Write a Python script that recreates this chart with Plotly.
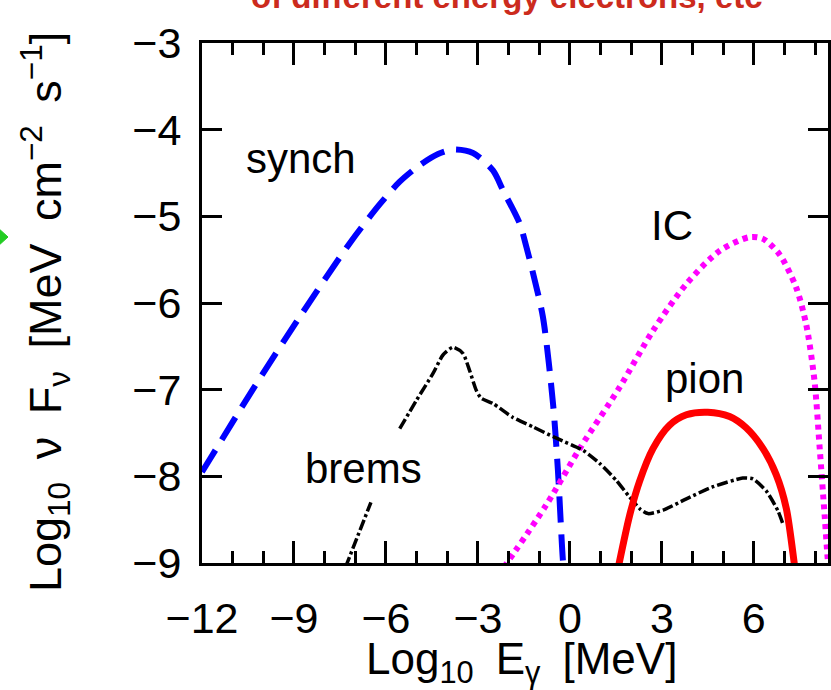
import plotly.graph_objects as go

# ---- data ----
synch_x = [-12.0, -11.74, -10.33, -8.81, -7.18, -6.2, -5.55, -4.9, -4.3, -3.81, -3.16, -2.51, -2.18, -1.64, -1.42, -1.2, -0.88, -0.55, -0.39, -0.22, -0.18]
synch_y = [-7.95, -7.80, -6.99, -6.16, -5.31, -4.86, -4.60, -4.41, -4.28, -4.23, -4.27, -4.47, -4.70, -5.08, -5.35, -5.66, -6.16, -7.16, -7.93, -9.0, -9.1]

ic_x = [-2.15, -0.77, 0.32, 1.61, 2.71, 3.8, 4.88, 5.86, 6.3, 6.84, 7.38, 7.71, 7.98, 8.15, 8.31, 8.41, 8.45]
ic_y = [-9.05, -8.33, -7.68, -6.98, -6.32, -5.78, -5.40, -5.24, -5.26, -5.44, -5.82, -6.25, -6.90, -7.68, -8.45, -8.95, -9.1]

pion_x = [1.58, 1.95, 2.27, 2.71, 3.25, 3.8, 4.5, 5.21, 5.75, 6.3, 6.73, 7.06, 7.33, 7.36]
pion_y = [-9.05, -8.45, -8.06, -7.68, -7.41, -7.29, -7.26, -7.31, -7.44, -7.68, -7.98, -8.37, -9.03, -9.1]

brems_x = [-7.32, -6.49, None, -5.55, -5.0, -4.46, -4.14, -3.81, -3.49, -3.27, -3.05, -2.89, -2.51, -1.86, -1.2, -0.44, 0.43, 0.97, 1.52, 1.95, 2.3, 2.55, 3.04, 3.8, 4.67, 5.64, 5.97, 6.41, 6.79, 6.95]
brems_y = [-9.05, -8.30, None, -7.45, -7.12, -6.81, -6.60, -6.51, -6.58, -6.78, -7.01, -7.10, -7.16, -7.32, -7.43, -7.56, -7.70, -7.85, -8.05, -8.24, -8.38, -8.43, -8.39, -8.26, -8.12, -8.02, -8.03, -8.17, -8.40, -8.55]

labels = ["synch", "brems", "IC", "pion"]
label_x = [-8.78, -6.72, 3.34, 4.39]
label_y = [-4.33, -7.91, -5.11, -6.87]

x_range = [-12, 8.42]
y_range = [-9, -3]

x_title = "Log<sub>10</sub>\u2002E<sub>γ</sub>\u2002[MeV]"
y_title = "Log<sub>10</sub>\u2002ν\u2002F<sub>ν</sub>\u2002[MeV\u2002cm<sup>−2</sup>\u2002s<sup>−1</sup>]"
heading = "of different energy electrons, etc"

FONT = "Liberation Sans, Arial, Helvetica, sans-serif"

fig = go.Figure()
fig.add_trace(go.Scatter(x=synch_x, y=synch_y, mode="lines",
                         line=dict(color="#0000ff", width=6, dash="26px,12px", shape="spline", smoothing=0.8),
                         showlegend=False, hoverinfo="skip"))
fig.add_trace(go.Scatter(x=ic_x, y=ic_y, mode="lines",
                         line=dict(color="#ff00ff", width=6, dash="5px,5px", shape="spline", smoothing=0.8),
                         showlegend=False, hoverinfo="skip"))
fig.add_trace(go.Scatter(x=brems_x, y=brems_y, mode="lines", connectgaps=False,
                         line=dict(color="#000000", width=3.5, dash="11px,3px,3px,3px", shape="spline", smoothing=0.6),
                         showlegend=False, hoverinfo="skip"))
fig.add_trace(go.Scatter(x=pion_x, y=pion_y, mode="lines",
                         line=dict(color="#ff0000", width=7, shape="spline", smoothing=0.8),
                         showlegend=False, hoverinfo="skip"))

for t, lx, ly in zip(labels, label_x, label_y):
    fig.add_annotation(x=lx, y=ly, xref="x", yref="y", text=t, showarrow=False,
                       font=dict(family=FONT, size=42, color="#000000"))

# partially visible heading above the frame
fig.add_annotation(x=0.487, y=1.0885, xref="paper", yref="paper", text="<b>" + heading + "</b>",
                   showarrow=False, xanchor="center", yanchor="middle",
                   font=dict(family=FONT, size=33, color="#cc2b1d"))

# axis titles
fig.add_annotation(x=0.511, y=-0.1904, xref="paper", yref="paper", text=x_title, showarrow=False,
                   xanchor="center", yanchor="middle", font=dict(family=FONT, size=44, color="#000000"))
fig.add_annotation(x=-0.2508, y=0.4827, xref="paper", yref="paper", text=y_title, showarrow=False,
                   textangle=-90, xanchor="center", yanchor="middle",
                   font=dict(family=FONT, size=45, color="#000000"))

# green arrowhead cut at left edge
fig.add_shape(type="path", xref="paper", yref="paper",
              path="M -0.3275 0.6462 L -0.3099 0.6269 L -0.3275 0.6077 Z",
              fillcolor="#22cc22", line=dict(color="#22cc22", width=1))

axis_common = dict(showline=True, linecolor="#000000", linewidth=3, mirror="ticks",
                   ticks="inside", tickcolor="#000000", tickwidth=3, showgrid=False,
                   zeroline=False, tickfont=dict(family=FONT, size=43, color="#000000"))

fig.update_xaxes(range=x_range, tick0=-12, dtick=3, ticklen=22,
                 minor=dict(dtick=1, ticks="inside", ticklen=12, tickwidth=3, tickcolor="#000000", showgrid=False),
                 ticklabelstandoff=15, **axis_common)
fig.update_yaxes(range=y_range, tick0=-9, dtick=1, ticklen=20,
                 ticklabelstandoff=9, **axis_common)

fig.update_layout(width=831, height=690, margin=dict(l=202, r=3, t=43, b=127, autoexpand=False),
                  paper_bgcolor="#ffffff", plot_bgcolor="#ffffff")

fig.write_html("out.html")
